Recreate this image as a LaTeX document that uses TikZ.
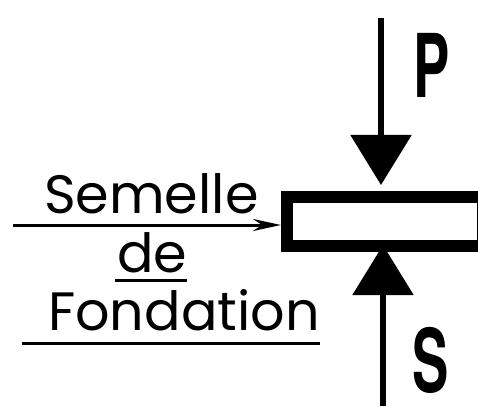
\documentclass[tikz,border=0pt]{standalone}
\usepackage{fontspec}
\setmainfont{Poppins}
\newfontfamily\boldlab{TeX Gyre Heros}
\usetikzlibrary{arrows.meta}
\begin{document}
\begin{tikzpicture}[x=1pt,y=-1pt,
  lab/.style={inner sep=0pt,anchor=base west,font=\fontsize{54}{60}\selectfont},
  force/.style={line width=5.5pt,-{Triangle[length=50pt,width=60pt]}},
  big/.style={inner sep=0pt,font=\boldlab\bfseries\fontsize{80}{88}\selectfont}]
\useasboundingbox (0,0) rectangle (478,406);
% foundation slab (its right end touches the picture's edge)
\node[draw,line width=12pt,minimum width=196pt,minimum height=49pt,inner sep=0pt,anchor=north west] (slab) at (281,191) {};
% forces
\coordinate (ptop) at (381,18);
\coordinate (pbot) at (381,185);
\coordinate (sbot) at (383,406);
\coordinate (stop) at (383,245);
\draw[force] (ptop) -- (pbot);
\draw[force] (sbot) -- (stop);
\node[big,anchor=north west] (P) at (413,33) {\scalebox{0.68}[1.1]{P}};
\node[big,anchor=north west] (S) at (412,327) {\scalebox{0.68}[1.1]{S}};
% labels
\node[lab] (sem) at (44,213) {Semelle};
\node[lab] (de) at (117,272) {de};
\node[lab] (fond) at (48,330) {Fondation};
\coordinate (lstart) at (13,225);
\draw[line width=3pt,-{Stealth[length=28pt,width=12pt]}] (lstart) -- (slab.west |- lstart);
\coordinate (u1a) at (115,280); \coordinate (u1b) at (187,280);
\draw[line width=3pt] (u1a) -- (u1b);
\coordinate (u2a) at (22,343); \coordinate (u2b) at (320,343);
\draw[line width=3pt] (u2a) -- (u2b);
\end{tikzpicture}
\end{document}
